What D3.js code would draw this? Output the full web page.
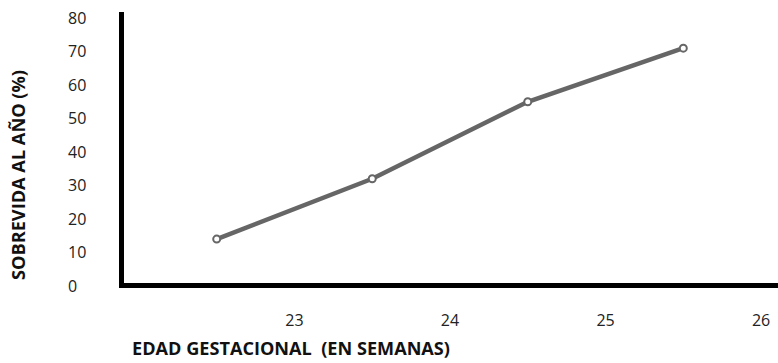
<!DOCTYPE html>
<html>
<head>
<meta charset="utf-8">
<script src="https://cdn.jsdelivr.net/npm/d3@7"></script>
<style>
  html, body { margin: 0; padding: 0; background: #fff; }
  svg { display: block; }
  text { font-family: "Open Sans", sans-serif; }
</style>
</head>
<body>
<svg id="chart" width="778" height="363"></svg>
<script>
const weeks = [22.5, 23.5, 24.5, 25.5];
const survival = [14, 32, 55, 71];
const xTickLabels = [23, 24, 25, 26];
const yTickLabels = [0, 10, 20, 30, 40, 50, 60, 70, 80];
const xTitle = "EDAD GESTACIONAL  (EN SEMANAS)";
const yTitle = "SOBREVIDA AL AÑO (%)";

const svg = d3.select("#chart");
const x = d3.scaleLinear().domain([22.5, 25.5]).range([216.7, 683.3]);
const y = d3.scaleLinear().domain([0, 80]).range([286, 18]);

// axes lines
svg.append("line")
  .attr("x1", 121.5).attr("x2", 121.5)
  .attr("y1", 12).attr("y2", 288)
  .attr("stroke", "#000").attr("stroke-width", 5);
svg.append("line")
  .attr("x1", 119).attr("x2", 778)
  .attr("y1", 285.5).attr("y2", 285.5)
  .attr("stroke", "#000").attr("stroke-width", 5);

// y tick labels
svg.append("g").selectAll("text").data(yTickLabels).join("text")
  .attr("x", 68).attr("y", d => y(d))
  .attr("dy", "0.35em")
  .attr("text-anchor", "start")
  .attr("font-size", 16)
  .attr("fill", "#222")
  .text(d => d);

// x tick labels
svg.append("g").selectAll("text").data(xTickLabels).join("text")
  .attr("x", d => x(d)).attr("y", 320)
  .attr("dy", "0.35em")
  .attr("text-anchor", "middle")
  .attr("font-size", 16)
  .attr("fill", "#222")
  .text(d => d);

// titles
svg.append("text")
  .attr("x", 132).attr("y", 349)
  .attr("dy", "0.35em")
  .attr("font-size", 17.5).attr("font-weight", "bold")
  .attr("fill", "#111")
  .attr("xml:space", "preserve")
  .style("white-space", "pre")
  .attr("textLength", 318)
  .attr("lengthAdjust", "spacingAndGlyphs")
  .text(xTitle);
svg.append("text")
  .attr("transform", "translate(19,175) rotate(-90)")
  .attr("dy", "0.35em")
  .attr("text-anchor", "middle")
  .attr("font-size", 17.5).attr("font-weight", "bold")
  .attr("fill", "#111")
  .attr("textLength", 210)
  .attr("lengthAdjust", "spacingAndGlyphs")
  .text(yTitle);

// line
const data = weeks.map((w, i) => ({w, v: survival[i]}));
svg.append("path")
  .datum(data)
  .attr("fill", "none")
  .attr("stroke", "#666")
  .attr("stroke-width", 4.5)
  .attr("d", d3.line().x(d => x(d.w)).y(d => y(d.v)));

svg.append("g").selectAll("circle").data(data).join("circle")
  .attr("cx", d => x(d.w)).attr("cy", d => y(d.v))
  .attr("r", 3.5)
  .attr("fill", "#fff")
  .attr("stroke", "#666")
  .attr("stroke-width", 2);
</script>
</body>
</html>
